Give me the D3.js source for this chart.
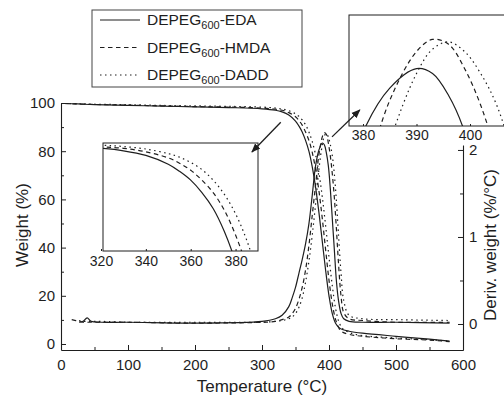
<!DOCTYPE html>
<meta charset="utf-8">
<script src="https://d3js.org/d3.v7.min.js"></script>
<style>
  body { margin: 0; background: #fff; }
  text { font-family: Arial, "Liberation Sans", sans-serif; fill: #1e1e1e; }
</style>
<div id="chart"></div>
<script>

// series names and line styles
const seriesNames = ["EDA", "HMDA", "DADD"];
const dashes = [null, "4.5,3.5", "1.5,3.5"];

// weight curves (TGA)
const tempW = [5, 25, 50, 100, 150, 200, 250, 300, 320, 330, 340, 350, 355, 360, 365, 370, 375, 380, 385, 390, 395, 400, 405, 410, 415, 420, 430, 450, 500, 550, 580];
const weightEDA  = [99.8, 99.6, 99.3, 99.0, 98.7, 98.4, 98.1, 97.6, 97.0, 96.3, 95.0, 92.5, 90.5, 88.0, 84.5, 80.0, 73.5, 65.0, 54.5, 42.5, 30.5, 20.0, 12.5, 8.5, 6.8, 6.0, 5.3, 4.5, 3.2, 2.0, 1.2];
const weightHMDA = [99.8, 99.6, 99.4, 99.1, 98.8, 98.5, 98.3, 97.9, 97.4, 97.0, 96.0, 94.3, 92.8, 90.8, 88.0, 84.5, 79.5, 72.5, 63.5, 52.0, 39.0, 26.5, 16.5, 10.0, 6.5, 5.0, 4.0, 3.2, 2.2, 1.6, 1.0];
const weightDADD = [99.8, 99.7, 99.5, 99.3, 99.0, 98.8, 98.6, 98.3, 97.9, 97.5, 96.8, 95.5, 94.5, 93.0, 91.0, 88.0, 84.0, 78.5, 71.0, 61.0, 49.0, 36.0, 24.0, 14.5, 9.0, 6.5, 4.8, 3.5, 2.5, 1.8, 1.2];

// derivative curves (DTG)
const tempD = [16, 27, 33, 39, 45, 60, 100, 200, 300, 320, 330, 340, 345, 350, 355, 360, 365, 370, 375, 380, 385, 390, 393, 396, 399, 402, 405, 408, 411, 414, 418, 422, 430, 450, 500, 580];
const derivEDA  = [null, 0.02, 0.03, 0.07, 0.03, 0.02, 0.02, 0.01, 0.03, 0.06, 0.1, 0.2, 0.3, 0.42, 0.58, 0.74, 0.92, 1.15, 1.48, 1.82, 2.0, 2.08, 2.06, 1.97, 1.82, 1.55, 1.2, 0.85, 0.5, 0.28, 0.12, 0.06, 0.03, 0.02, 0.02, 0.01];
const derivHMDA = [0.05, 0.03, 0.02, 0.02, 0.02, 0.02, 0.02, 0.01, 0.02, 0.03, 0.05, 0.08, 0.12, 0.18, 0.28, 0.42, 0.62, 0.9, 1.25, 1.6, 1.95, 2.15, 2.2, 2.18, 2.08, 1.93, 1.72, 1.45, 1.1, 0.72, 0.32, 0.13, 0.06, 0.04, 0.02, 0.02];
const derivDADD = [null, 0.04, 0.03, 0.03, 0.03, 0.03, 0.02, 0.02, 0.02, 0.03, 0.04, 0.06, 0.08, 0.12, 0.19, 0.3, 0.48, 0.72, 1.02, 1.38, 1.78, 2.06, 2.16, 2.19, 2.15, 2.06, 1.93, 1.72, 1.42, 1.05, 0.58, 0.27, 0.1, 0.06, 0.05, 0.04];

// tick values
const xTicks = [0, 100, 200, 300, 400, 500, 600];
const xMinor = [50, 150, 250, 350, 450, 550];
const wTicks = [0, 20, 40, 60, 80, 100];
const wMinor = [10, 30, 50, 70, 90];
const dTicks = [0, 1, 2];
const dMinor = [0.5, 1.5];
const inset1Ticks = [320, 340, 360, 380];
const inset2Ticks = [380, 390, 400];

const weights = [weightEDA, weightHMDA, weightDADD];
const derivs = [derivEDA, derivHMDA, derivDADD];
const ink = "#1e1e1e";

const svg = d3.select("#chart").append("svg")
    .attr("width", 504).attr("height", 396);

// main scales
const x = d3.scaleLinear().domain([0, 600]).range([61, 463]);
const yW = d3.scaleLinear().domain([-2.49, 100]).range([350, 103]);
const yD = d3.scaleLinear().domain([-0.3, 2.057]).range([350.1, 145]);

function styleAxis(g) {
  g.selectAll("path.domain").attr("stroke", ink).attr("stroke-width", 1.1);
  g.selectAll(".tick line").attr("stroke", ink);
  g.selectAll(".tick text").style("font-size", "15px").attr("fill", ink);
}

// bottom axis
svg.append("g").attr("transform", "translate(0,350)")
  .call(d3.axisBottom(x).tickValues(xTicks).tickSize(-5).tickSizeOuter(0).tickPadding(9))
  .call(styleAxis);
svg.append("g").attr("transform", "translate(0,350)")
  .call(d3.axisBottom(x).tickValues(xMinor).tickSize(-3).tickFormat(""))
  .call(g => g.select(".domain").remove()).call(styleAxis);

// left axis
svg.append("g").attr("transform", "translate(61,0)")
  .call(d3.axisLeft(yW).tickValues(wTicks).tickSize(-5).tickSizeOuter(0).tickPadding(6))
  .call(styleAxis);
svg.append("g").attr("transform", "translate(61,0)")
  .call(d3.axisLeft(yW).tickValues(wMinor).tickSize(-3).tickFormat(""))
  .call(g => g.select(".domain").remove()).call(styleAxis);

// right axis
svg.append("g").attr("transform", "translate(463,0)")
  .call(d3.axisRight(yD).tickValues(dTicks).tickFormat(d3.format("d")).tickSize(-5).tickSizeOuter(0).tickPadding(6))
  .call(styleAxis);
svg.append("g").attr("transform", "translate(463,0)")
  .call(d3.axisRight(yD).tickValues(dMinor).tickSize(-3).tickFormat(""))
  .call(g => g.select(".domain").remove()).call(styleAxis);

// axis titles
svg.append("text").attr("x", 262).attr("y", 392).attr("text-anchor", "middle")
  .style("font-size", "17px").text("Temperature (°C)");
svg.append("text").attr("transform", "translate(28,225) rotate(-90)").attr("text-anchor", "middle")
  .style("font-size", "17px").text("Weight (%)");
svg.append("text").attr("transform", "translate(496,245) rotate(-90)").attr("text-anchor", "middle")
  .style("font-size", "17px").text("Deriv. weight (%/°C)");

function drawSeries(g, sx, sy, temps, vals, i, w) {
  const pts = temps.map((t, k) => [t, vals[k]]);
  g.append("path")
    .datum(pts)
    .attr("fill", "none")
    .attr("stroke", ink)
    .attr("stroke-width", w)
    .attr("stroke-dasharray", dashes[i])
    .attr("d", d3.line()
      .defined(d => d[1] != null)
      .x(d => sx(d[0]))
      .y(d => sy(d[1]))
      .curve(d3.curveCatmullRom));
}

// main curves
const main = svg.append("g");
seriesNames.forEach((s, i) => {
  drawSeries(main, x, yW, tempW, weights[i], i, 1.2);
  drawSeries(main, x, yD, tempD, derivs[i], i, 1.2);
});

// inset 1: weight close-up
const xi1 = d3.scaleLinear().domain([320, 390]).range([101, 258]);
const yi1 = d3.scaleLinear().domain([68, 98.5]).range([251, 143]);
svg.append("clipPath").attr("id", "clip1").append("rect")
  .attr("x", 103).attr("y", 143).attr("width", 155).attr("height", 108);
svg.append("rect").attr("x", 103).attr("y", 143).attr("width", 155).attr("height", 108)
  .attr("fill", "#fff").attr("stroke", ink).attr("stroke-width", 1);
const in1 = svg.append("g").attr("clip-path", "url(#clip1)");
seriesNames.forEach((s, i) => drawSeries(in1, xi1, yi1, tempW, weights[i], i, 1.2));
svg.append("g").attr("transform", "translate(0,251)")
  .call(d3.axisBottom(xi1).tickValues(inset1Ticks).tickSize(-2).tickSizeOuter(0).tickPadding(5))
  .call(g => g.select(".domain").remove())
  .call(styleAxis)
  .call(g => g.selectAll(".tick text").style("font-size", "14px"));

// inset 2: derivative peak close-up
const xi2 = d3.scaleLinear().domain([380, 400]).range([363, 470]);
const yi2 = d3.scaleLinear().domain([1.845, 2.30]).range([126, 15]);
svg.append("clipPath").attr("id", "clip2").append("rect")
  .attr("x", 349).attr("y", 15).attr("width", 180).attr("height", 111);
svg.append("rect").attr("x", 349).attr("y", 15).attr("width", 180).attr("height", 111)
  .attr("fill", "#fff").attr("stroke", ink).attr("stroke-width", 1);
const in2 = svg.append("g").attr("clip-path", "url(#clip2)");
seriesNames.forEach((s, i) => drawSeries(in2, xi2, yi2, tempD, derivs[i], i, 1.2));
svg.append("g").attr("transform", "translate(0,126)")
  .call(d3.axisBottom(xi2).tickValues(inset2Ticks).tickSize(-2).tickSizeOuter(0).tickPadding(4))
  .call(g => g.select(".domain").remove())
  .call(styleAxis)
  .call(g => g.selectAll(".tick text").style("font-size", "14px"));

// arrows pointing to the insets
svg.append("defs").append("marker")
  .attr("id", "head").attr("viewBox", "0 0 10 10").attr("refX", 9).attr("refY", 5)
  .attr("markerWidth", 7).attr("markerHeight", 7).attr("orient", "auto")
  .append("path").attr("d", "M0,1 L10,5 L0,9 Z").attr("fill", ink);
const arrows = [
  { from: [328, 92], to: [285, 79.7], y: yW },
  { from: [404.5, 2.15], to: [446, 2.46], y: yD }
];
arrows.forEach(a => {
  svg.append("line")
    .attr("x1", x(a.from[0])).attr("y1", a.y(a.from[1]))
    .attr("x2", x(a.to[0])).attr("y2", a.y(a.to[1]))
    .attr("stroke", ink).attr("stroke-width", 1.3)
    .attr("marker-end", "url(#head)");
});

// legend
const lg = svg.append("g");
lg.append("rect").attr("x", 92).attr("y", 10).attr("width", 210).attr("height", 77)
  .attr("fill", "#fff").attr("stroke", "#444").attr("stroke-width", 1);
seriesNames.forEach((s, i) => {
  const yy = 20 + i * 27.5;
  lg.append("line").attr("x1", 100).attr("x2", 140).attr("y1", yy).attr("y2", yy)
    .attr("stroke", ink).attr("stroke-width", 1.2).attr("stroke-dasharray", dashes[i]);
  const t = lg.append("text").attr("x", 147).attr("y", yy + 5).style("font-size", "15.5px");
  t.append("tspan").text("DEPEG");
  t.append("tspan").attr("dy", 4).style("font-size", "11px").text("600");
  t.append("tspan").attr("dy", -4).text("-" + s);
});

</script>
